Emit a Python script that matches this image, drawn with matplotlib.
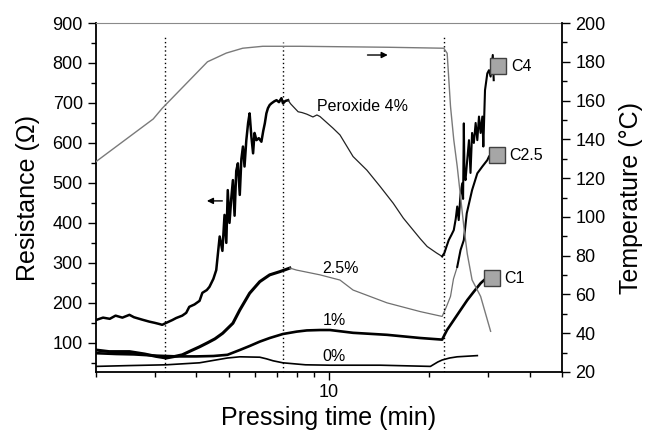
import matplotlib
matplotlib.use('Agg')
import matplotlib.pyplot as plt
from matplotlib.ticker import FixedLocator, LogLocator, NullFormatter, MultipleLocator, FuncFormatter
import numpy as np

plt.rcParams['font.family'] = ['Liberation Sans', 'DejaVu Sans']

# resistance curves, pressing time in min, resistance in ohm
t_4 = [2.0, 2.1, 2.2, 2.29, 2.4, 2.52, 2.6, 2.75, 2.89, 3.0, 3.1, 3.16, 3.25, 3.39,
       3.48, 3.63, 3.73, 3.81, 3.95, 4.09, 4.17, 4.3, 4.38, 4.5, 4.59, 4.70, 4.79,
       4.86, 4.92, 4.97, 5.03, 5.09, 5.15, 5.21, 5.27, 5.33, 5.40, 5.46, 5.52, 5.58,
       5.65, 5.72, 5.78, 5.85, 5.92, 5.98, 6.06, 6.16, 6.27, 6.35, 6.42, 6.49, 6.56,
       6.64, 6.72, 6.85, 6.96, 7.08, 7.20, 7.28, 7.40, 7.54, 7.67, 7.81, 8.08, 8.3,
       8.58, 8.95, 9.2, 9.4, 10.28, 10.79, 11.81, 12.99, 14.24, 15.59, 16.71, 18.8,
       19.7, 21.0, 21.85, 22.2, 22.5, 22.87, 23.3, 23.68, 24.0, 24.25, 24.5, 24.8,
       25.1, 25.25, 25.38, 25.5, 25.68, 26.0, 26.3, 26.58, 26.87, 27.2, 27.54, 27.86,
       28.18, 28.5, 28.84, 29.04, 29.38, 29.85, 30.2, 30.54, 31.0, 31.2]
r_4 = [157, 163, 160, 168, 163, 170, 164, 158, 153, 150, 147, 145, 150, 157,
       162, 168, 175, 190, 196, 205, 225, 232, 240, 260, 282, 366, 330,
       420, 350, 482, 400, 460, 507, 418, 530, 549, 470, 560, 591, 541,
       607, 650, 674, 616, 574, 625, 607, 612, 603, 630, 649, 674, 687,
       695, 699, 704, 707, 702, 712, 699, 705, 707, 698, 691, 678, 676,
       672, 665, 670, 666, 637, 620, 566, 532, 491, 449, 412, 360,
       341, 325, 316, 325, 340, 357, 370, 382, 410, 441, 407, 470,
       499, 460, 649, 520, 507, 560, 607, 525, 625, 600, 650, 607,
       666, 625, 666, 591, 732, 774, 782, 766, 820, 757]

t_25 = [2.0, 2.19, 2.52, 2.8, 3.03, 3.25, 3.45, 3.63, 3.85, 4.09, 4.32, 4.55, 4.80,
        5.15, 5.40, 5.78, 6.20, 6.64, 7.12, 7.63, 7.99, 9.4, 10.79, 11.81, 14.93,
        18.8, 21.85, 22.5, 23.15, 23.63, 24.25, 24.81, 25.38, 25.9, 26.87, 27.86,
        28.84, 29.85, 30.2]
r_25 = [82, 78, 78, 72, 66, 62, 66, 70, 80, 90, 100, 110, 124,
        149, 182, 224, 253, 270, 278, 287, 282, 270, 257, 232, 200,
        178, 166, 190, 216, 260, 290, 332, 357, 424, 482, 524,
        541, 557, 566]

t_1 = [2.0, 2.3, 2.6, 3.0, 3.5, 4.0, 4.5, 4.96, 5.40, 5.78, 6.20, 6.64, 7.27, 8.0,
       8.58, 9.4, 10.07, 11.81, 14.93, 18.8, 21.85, 22.6, 23.68, 24.81, 26.0, 27.2,
       28.5, 29.2]
r_1 = [74, 72, 71, 68, 66, 66, 67, 70, 82, 92, 103, 112, 122, 128,
       131, 132, 132, 125, 120, 112, 108, 132, 157, 182, 207, 228,
       249, 257]

t_0 = [2.0, 2.5, 3.25, 4.09, 4.5, 4.96, 5.4, 6.2, 6.49, 6.8, 7.27, 8.5, 10.07,
       14.24, 20.15, 21.2, 21.85, 23.0, 24.25, 27.86]
r_0 = [41, 43, 45, 50, 56, 62, 65, 64, 60, 55, 50, 45, 44,
       44, 41, 52, 57, 62, 65, 68]

# press temperature, degC
t_temp = [2.0, 2.97, 3.16, 4.32, 4.92, 5.51, 6.33, 8.18, 15.0, 22.1, 22.62, 23.15,
          23.68, 24.25, 24.81, 25.38, 25.99, 26.87, 28.5, 30.54]
temp = [128.5, 150.5, 156, 180, 184.5, 187, 188, 188, 187.5, 187, 184.4, 157,
        139.7, 126, 110.5, 95, 81, 67.5, 59, 41]

# phase boundaries (min) and their dotted line heights (ohm)
phase_t = [3.23, 7.26, 22.2]
phase_top = [870, 852, 865]

# final values after cooling
end_names = ['C4', 'C2.5', 'C1']
end_t = [32.2, 31.9, 30.8]
end_r = [792, 569, 261]

fig = plt.figure(figsize=(6.45, 4.36), dpi=100)
ax = fig.add_axes([0.1488, 0.1468, 0.7225, 0.8004])
ax2 = ax.twinx()

ax.set_xscale('log')
ax.set_xlim(2, 50)
ax.set_ylim(27, 900)
ax2.set_ylim(20, 200)

t_4 = np.array(t_4); r_4 = np.array(r_4)
t_25 = np.array(t_25); r_25 = np.array(r_25)

# 4 %: noisy while pressing, thinner during the hold
m = t_4 <= 7.6
ax.plot(t_4[m], r_4[m], color='k', lw=1.8)
m = (t_4 >= 7.54) & (t_4 <= 21.9)
ax.plot(t_4[m], r_4[m], color='#222222', lw=0.9)
m = t_4 >= 21.85
ax.plot(t_4[m], r_4[m], color='k', lw=1.5)

m = t_25 <= 7.63
ax.plot(t_25[m], r_25[m], color='k', lw=2.2)
m = (t_25 >= 7.63) & (t_25 <= 24.3)
ax.plot(t_25[m], r_25[m], color='#707070', lw=0.9)
m = t_25 >= 24.25
ax.plot(t_25[m], r_25[m], color='k', lw=1.5)

ax.plot(t_1, r_1, color='k', lw=1.9)
ax.plot(t_0, r_0, color='k', lw=1.2)

ax2.plot(t_temp, temp, color='#7a7a7a', lw=1.0)

for x, top in zip(phase_t, phase_top):
    ax.plot([x, x], [27, top], color='k', lw=1.0, ls=(0, (1, 2)))

ax.plot(end_t, end_r, ls='none', marker='s', ms=11, mfc='#a6a6a6', mec='#404040', mew=1.0, zorder=5)
for name, x, y in zip(end_names, end_t, end_r):
    ax.text(x * 1.09, y, name, fontsize=11.5, va='center', ha='left')

ax.text(9.2, 690, 'Peroxide 4%', fontsize=11.5, va='center', ha='left')
ax.text(9.55, 285, '2.5%', fontsize=11.5, va='center', ha='left')
ax.text(9.55, 157, '1%', fontsize=11.5, va='center', ha='left')
ax.text(9.55, 65, '0%', fontsize=11.5, va='center', ha='left')

ax.annotate('', xy=(4.22, 455), xytext=(4.88, 455),
            arrowprops=dict(arrowstyle='-|>', color='k', lw=1.0, mutation_scale=9))
ax2.annotate('', xy=(15.3, 183.5), xytext=(12.8, 183.5),
             arrowprops=dict(arrowstyle='-|>', color='k', lw=1.0, mutation_scale=9))

# ticks
ax.xaxis.set_major_locator(FixedLocator([10]))
ax.xaxis.set_major_formatter(FuncFormatter(lambda v, p: '%d' % v))
ax.xaxis.set_minor_locator(LogLocator(base=10, subs=np.arange(2, 10)))
ax.xaxis.set_minor_formatter(NullFormatter())
ax.set_yticks([100, 200, 300, 400, 500, 600, 700, 800, 900])
ax.yaxis.set_minor_locator(MultipleLocator(50))
ax2.yaxis.set_major_locator(MultipleLocator(20))
ax2.yaxis.set_minor_locator(MultipleLocator(10))

for a in (ax, ax2):
    a.tick_params(which='major', direction='out', length=6, width=1.0, labelsize=13)
    a.tick_params(which='minor', direction='out', length=3.5, width=1.0)
ax.tick_params(axis='x', which='major', pad=3)

for s in ('left', 'bottom'):
    ax.spines[s].set_linewidth(1.3)
ax2.spines['right'].set_linewidth(1.3)
ax.spines['top'].set_color('#8a8a8a')
ax2.spines['top'].set_visible(False)
ax2.spines['left'].set_visible(False)
ax2.spines['bottom'].set_visible(False)
ax.spines['right'].set_visible(False)

ax.set_xlabel('Pressing time (min)', fontsize=18, labelpad=3)
ax.set_ylabel('Resistance (\u03a9)', fontsize=18, labelpad=9)
ax2.set_ylabel('Temperature (\u00b0C)', fontsize=18, labelpad=10)

fig.savefig('out.png', dpi=100)
